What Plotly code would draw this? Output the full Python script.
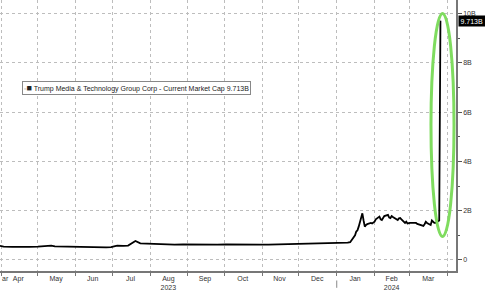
import plotly.graph_objects as go

dates = [
    "2023-03-31", "2023-04-03", "2023-04-10", "2023-04-17", "2023-04-24",
    "2023-05-01", "2023-05-08", "2023-05-12", "2023-05-15", "2023-05-22", "2023-05-30",
    "2023-06-05", "2023-06-12", "2023-06-20", "2023-06-26", "2023-06-30",
    "2023-07-03", "2023-07-05", "2023-07-10", "2023-07-14", "2023-07-19", "2023-07-20",
    "2023-07-24", "2023-07-31",
    "2023-08-07", "2023-08-14", "2023-08-21", "2023-08-28",
    "2023-09-05", "2023-09-11", "2023-09-18", "2023-09-25",
    "2023-10-02", "2023-10-09", "2023-10-16", "2023-10-23", "2023-10-30",
    "2023-11-06", "2023-11-13", "2023-11-20", "2023-11-27",
    "2023-12-04", "2023-12-11", "2023-12-18", "2023-12-27",
    "2024-01-03", "2024-01-10", "2024-01-12", "2024-01-16", "2024-01-17", "2024-01-18",
    "2024-01-19", "2024-01-22", "2024-01-23", "2024-01-24", "2024-01-25", "2024-01-26",
    "2024-01-29", "2024-01-30", "2024-02-01", "2024-02-02", "2024-02-05", "2024-02-06",
    "2024-02-07", "2024-02-08", "2024-02-09", "2024-02-12", "2024-02-13", "2024-02-14",
    "2024-02-15", "2024-02-16", "2024-02-20", "2024-02-21", "2024-02-22", "2024-02-23",
    "2024-02-26", "2024-02-27", "2024-02-28", "2024-03-01", "2024-03-04", "2024-03-05",
    "2024-03-06", "2024-03-07", "2024-03-08", "2024-03-11", "2024-03-12", "2024-03-13",
    "2024-03-14", "2024-03-15", "2024-03-18", "2024-03-19", "2024-03-20", "2024-03-21",
    "2024-03-22", "2024-03-25", "2024-03-26",
]
market_cap_b = [
    0.57, 0.54, 0.53, 0.52, 0.53,
    0.54, 0.56, 0.58, 0.55, 0.54, 0.53,
    0.53, 0.52, 0.52, 0.51, 0.52,
    0.56, 0.58, 0.57, 0.58, 0.74, 0.77,
    0.67, 0.65,
    0.63, 0.61, 0.62, 0.63,
    0.62, 0.61, 0.62, 0.62,
    0.63, 0.62, 0.64, 0.63, 0.62,
    0.62, 0.63, 0.63, 0.62,
    0.64, 0.66, 0.67, 0.68,
    0.69, 0.70, 0.72, 1.00, 1.15, 1.20,
    1.35, 1.89, 1.60, 1.35, 1.42, 1.45,
    1.50, 1.48, 1.55, 1.65, 1.76, 1.65,
    1.62, 1.70, 1.78, 1.83, 1.72, 1.70,
    1.78, 1.74, 1.62, 1.69, 1.70, 1.65,
    1.50, 1.55, 1.48, 1.50, 1.49, 1.48,
    1.50, 1.46, 1.45, 1.42, 1.38, 1.45,
    1.55, 1.50, 1.42, 1.60, 1.55, 1.50,
    1.50, 1.60, 9.713,
]

month_mid = ["2023-04-15", "2023-05-16", "2023-06-15", "2023-07-16", "2023-08-16",
             "2023-09-15", "2023-10-16", "2023-11-15", "2023-12-16", "2024-01-16",
             "2024-02-15", "2024-03-16"]
month_labels = ["Apr", "May", "Jun", "Jul", "Aug<br>2023", "Sep", "Oct", "Nov", "Dec",
                "Jan", "Feb<br>2024", "Mar"]
y_ticks = [0, 2, 4, 6, 8, 10]
y_labels = ["0", "2B", "4B", "6B", "8B", "10B"]
series_name = "Trump Media &amp; Technology Group Corp - Current Market Cap 9.713B"
last_label = "9.713B"
edge_label = "ar"

FONT = "Liberation Sans, Arial, sans-serif"
GRID = "#bdbdbd"

fig = go.Figure()
fig.add_trace(go.Scatter(x=dates, y=market_cap_b, mode="lines",
                         line=dict(color="black", width=1.8), showlegend=False,
                         hoverinfo="skip"))

fig.update_layout(
    width=485, height=291,
    margin=dict(l=0, r=29, t=0, b=20),
    paper_bgcolor="white", plot_bgcolor="white",
    font=dict(family=FONT, size=7, color="#333"),
    showlegend=False,
    xaxis=dict(
        range=["2023-03-31", "2024-04-07 18:00"],
        tickmode="array", tickvals=month_mid, ticktext=month_labels,
        ticks="", showgrid=False, zeroline=False,
        showline=True, linecolor="#777", linewidth=1.5,
        tickfont=dict(size=7, color="#333", family=FONT),
        minor=dict(dtick="M1", tick0="2023-01-01", ticks="outside", ticklen=3,
                   tickcolor="#777", showgrid=True, gridcolor=GRID, griddash="dot",
                   gridwidth=1),
    ),
    yaxis=dict(
        side="right", range=[-0.45, 10.55],
        tickmode="array", tickvals=y_ticks, ticktext=y_labels,
        ticks="outside", ticklen=4, tickcolor="#555",
        showline=True, linecolor="#777", linewidth=1.5,
        showgrid=True, gridcolor=GRID, griddash="dot", gridwidth=1,
        zeroline=False,
        tickfont=dict(size=7, color="#333", family=FONT),
        minor=dict(dtick=1, tick0=0, ticks="outside", ticklen=2, tickcolor="#555",
                   showgrid=False),
    ),
)

# highlight oval around the listing spike
fig.add_shape(type="circle", xref="x", yref="y",
              x0="2024-03-18 06:00", x1="2024-04-06 03:00", y0=0.95, y1=10.0,
              line=dict(color="#7fdc5f", width=3))

# legend box
fig.add_annotation(
    xref="paper", yref="paper", x=22 / 456, y=1 - 81 / 271,
    xanchor="left", yanchor="top", showarrow=False,
    text="<span style='color:#aaa;font-size:7px'>▫</span><span style='font-size:9px'>■</span> " + series_name,
    font=dict(size=7, color="#222", family=FONT),
    bgcolor="white", bordercolor="#888", borderwidth=1, borderpad=1,
)

# last value tag
fig.add_annotation(
    xref="paper", yref="y", x=1, y=market_cap_b[-1], xshift=2,
    xanchor="left", yanchor="middle", showarrow=False,
    text=last_label, font=dict(size=7, color="white", family=FONT),
    bgcolor="black", borderpad=1.5,
)

# partially visible previous month label at the left edge
fig.add_annotation(
    xref="paper", yref="paper", x=0, y=0, yshift=-7,
    xanchor="left", yanchor="middle", showarrow=False,
    text=edge_label, font=dict(size=7, color="#333", family=FONT),
)

# year separator mark under Jan 1
fig.add_shape(type="line", xref="x", yref="paper", x0="2024-01-01", x1="2024-01-01",
              y0=-0.035, y1=-0.062, line=dict(color="#888", width=1))

fig.write_html("out.html")
